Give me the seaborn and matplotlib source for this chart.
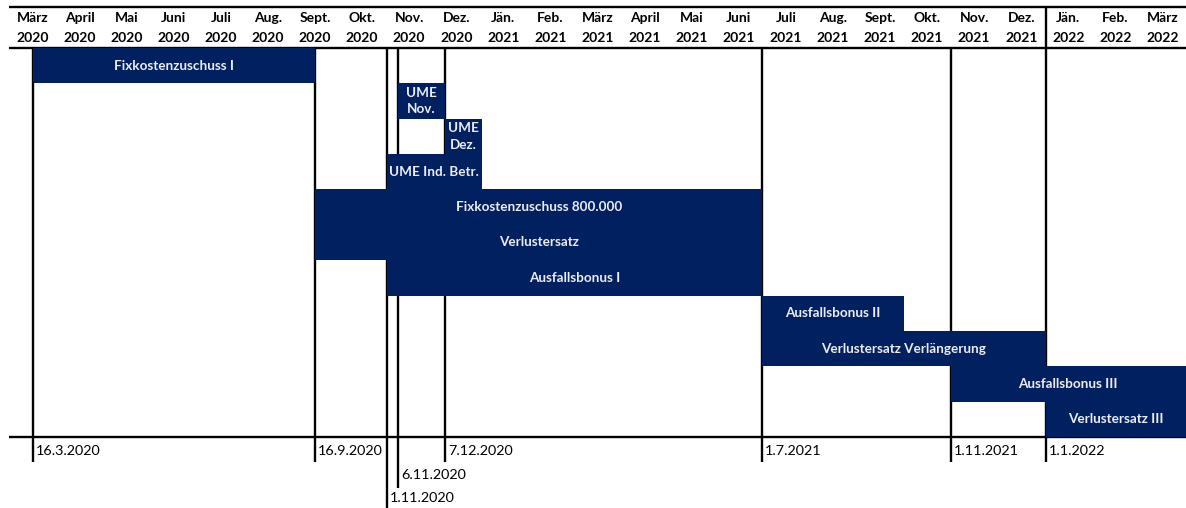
import matplotlib
matplotlib.use("Agg")
import matplotlib.pyplot as plt
import seaborn as sns

# header columns
months = ["März", "April", "Mai", "Juni", "Juli", "Aug.", "Sept.", "Okt.", "Nov.", "Dez.",
          "Jän.", "Feb.", "März", "April", "Mai", "Juni", "Juli", "Aug.", "Sept.", "Okt.",
          "Nov.", "Dez.", "Jän.", "Feb.", "März"]
years = ["2020"] * 10 + ["2021"] * 12 + ["2022"] * 3

# programmes: start / end in months counted from 1 March 2020
programmes = ["Fixkostenzuschuss I", "UME\nNov.", "UME\nDez.", "UME Ind. Betr.",
              "Fixkostenzuschuss 800.000", "Verlustersatz", "Ausfallsbonus I",
              "Ausfallsbonus II", "Verlustersatz Verlängerung", "Ausfallsbonus III",
              "Verlustersatz III"]
starts = [0.51, 8.27, 9.26, 8.02, 6.51, 6.51, 8.02, 16.0, 16.0, 20.0, 22.02]
ends = [6.51, 9.26, 10.04, 10.04, 16.0, 16.0, 16.0, 19.0, 22.02, 25.0, 25.0]

# key dates below the chart
date_labels = ["16.3.2020", "16.9.2020", "1.11.2020", "6.11.2020", "7.12.2020",
               "1.7.2021", "1.11.2021", "1.1.2022"]
date_pos = [0.51, 6.51, 8.02, 8.27, 9.26, 16.0, 20.0, 22.02]
date_level = [0, 0, 2, 1, 0, 0, 0, 0]

NAVY = "#00205F"
ROW_H = 35.36  # px per row
TOP = 48       # px, header bottom


def ypx(px):
    # pixel row -> seaborn category coordinate
    return (px - TOP) / ROW_H - 0.5


sns.set_theme(style="white")
plt.rcParams["font.family"] = ["Lato", "DejaVu Sans"]

fig = plt.figure(figsize=(11.86, 5.08), dpi=100)
ax = fig.add_axes([0, 0, 1, 1])

widths = [e - s for s, e in zip(starts, ends)]
sns.barplot(x=widths, y=programmes, orient="h", left=starts, width=1.0,
            color=NAVY, saturation=1, errorbar=None, linewidth=0, zorder=3, ax=ax)

for name, s, e, i in zip(programmes, starts, ends, range(len(programmes))):
    ax.text((s + e) / 2, i, name, ha="center", va="center", color="#ECECF0",
            fontsize=9.7, fontweight="bold", linespacing=1.45, zorder=4)

# header
for i, (m, y) in enumerate(zip(months, years)):
    ax.text(i + 0.5, ypx(18), m, ha="center", va="center", fontsize=10, fontweight="bold", color="black")
    ax.text(i + 0.5, ypx(38), y, ha="center", va="center", fontsize=10, fontweight="bold", color="black")

lw = 1.7
for py in [7, 48, 437]:
    ax.plot([0, 25], [ypx(py), ypx(py)], color="black", lw=lw, zorder=2, solid_capstyle="butt")

# date markers
level_text = [451, 475, 498]
level_bottom = [462, 488, 509]
for lab, x, lev in zip(date_labels, date_pos, date_level):
    top = ypx(7) if x > 21.5 else ypx(48)
    ax.plot([x, x], [top, ypx(level_bottom[lev])], color="black", lw=lw, zorder=2, solid_capstyle="butt")
    ax.text(x + 0.06, ypx(level_text[lev]), lab, ha="left", va="center", fontsize=10.4, color="black")

ax.set_xlim(-9 / 47.08, 25.0)
ax.set_ylim(ypx(508), ypx(0))
ax.axis("off")

fig.savefig("out.png", dpi=100)
